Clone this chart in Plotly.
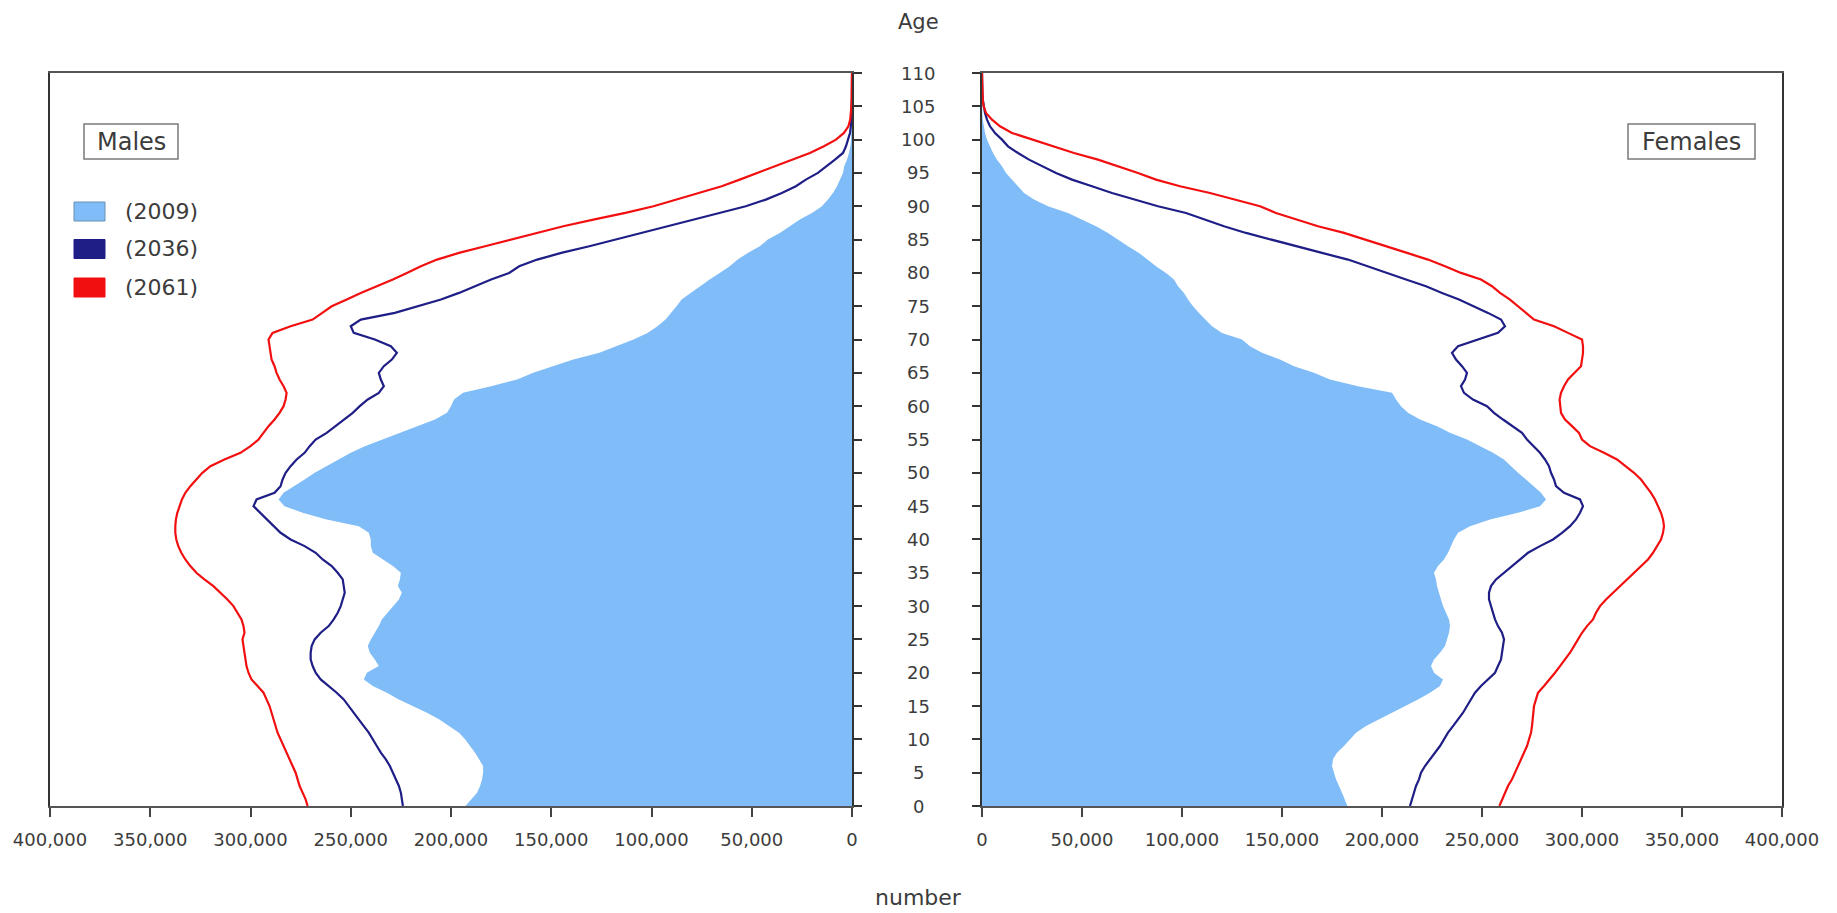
import plotly.graph_objects as go

# ---------------- data (thousands of persons, single years of age 0..110) ----------------
ages = list(range(0, 111))

males_2009 = [
    192.8, 190, 187, 185.5, 184.5, 184, 184, 186, 188, 190.5,
    193, 196, 201, 206, 212, 219, 226, 232, 239, 243.5,
    242, 236, 238, 240.5, 241.5, 240, 238, 236, 234.5, 231.5,
    229, 226, 224.5, 226.5, 225.5, 225, 229, 234, 239, 240,
    240, 241, 246, 262, 274, 283, 286, 283.5, 278, 273,
    268, 262, 256, 250, 243, 234, 225, 217, 208, 202,
    200, 198.5, 194, 180, 167, 159, 149, 139, 126, 117,
    109, 102, 97, 93, 90, 87.5, 85, 80.5, 76, 71,
    66, 61, 57, 52, 46, 42, 36, 31, 26, 20,
    15, 12, 9.5, 7.5, 6, 4.5, 3.9, 2.5, 1.5, 0.8,
    0.5, 0.3, 0.2, 0.1, 0.05, 0.02, 0.01, 0, 0, 0, 0,
]
males_2036 = [
    224, 224.5, 225, 226, 227.5, 229, 230.5, 232.5, 235, 237,
    239, 241, 243.5, 246, 248.5, 251, 253.5, 257, 261, 265,
    267.5, 269, 270, 270, 269.5, 268, 265, 261, 258.5, 256.5,
    255, 254, 253, 253.5, 254, 256.5, 259.5, 264, 267.5, 273,
    280, 285, 288.5, 292, 295, 298.5, 297, 288, 285, 284,
    282.5, 280, 277, 273, 270.5, 267.5, 262, 257.5, 253, 249,
    245.5, 241.5, 236, 233.5, 235, 236, 233.5, 229.5, 227, 230,
    238, 248.5, 250, 245, 228, 216, 205, 196, 188, 180,
    171, 166, 157, 145, 131, 118, 105, 92, 79, 65,
    53, 43, 35, 28, 23, 17, 12.5, 8.5, 4.5, 3,
    2, 1, 0.6, 0.4, 0.2, 0.1, 0.05, 0.02, 0.01, 0, 0,
]
males_2061 = [
    271.5, 272.5, 274, 275.5, 276.5, 277.5, 279, 280.5, 282, 283.5,
    285, 286.5, 287.5, 288.5, 289.5, 290.5, 292, 293.5, 296.5, 299.5,
    301, 302, 302.5, 303, 303.5, 304, 303, 303.5, 304.5, 306.5,
    308.5, 311.5, 315, 318.5, 323, 327, 330, 332.5, 334.5, 336,
    337, 337.5, 337.5, 337.2, 336.5, 335.5, 334.2, 332.5, 330, 327,
    324, 320, 313, 305, 300, 296, 293.5, 291, 288, 285.5,
    283.5, 282.5, 282, 283.5, 285.5, 287, 288, 289.5, 290, 290.5,
    291, 289, 280, 269, 264, 259.5, 252, 245, 237, 229,
    222, 215, 207, 196, 183, 170, 157, 144, 129, 113,
    99, 88, 76, 65, 56, 47, 38, 29, 21, 14,
    8, 4, 1.8, 0.9, 0.5, 0.3, 0.2, 0.1, 0.05, 0.02, 0.01,
]
females_2009 = [
    182.7, 181.5, 180, 178.5, 177, 176, 175, 175.5, 177.5, 181,
    184, 187, 192, 198.5, 205, 212, 218, 224, 229, 230.5,
    226, 224.5, 226, 229, 231.5, 232.5, 233.5, 234, 233.5, 232,
    230.5, 229.5, 228.5, 227.5, 227, 226, 228, 231, 233, 234.5,
    236, 238, 244, 254, 268, 279, 282, 279.5, 276, 272,
    268, 264.5, 261, 255.5, 249, 242.5, 234, 227.5, 219, 213,
    209.5, 207, 205, 188, 174, 166, 156, 149, 140, 134,
    130, 120, 115, 111.5, 108.5, 105.5, 103, 101, 98, 96,
    92, 87, 83, 78.5, 73, 68, 63, 57, 50, 43,
    33, 26, 21, 18, 15, 12, 10, 7.5, 5.5, 4,
    2.5, 1.5, 0.8, 0.4, 0.2, 0.1, 0.05, 0.02, 0.01, 0, 0,
]
females_2036 = [
    214, 215, 216, 217, 218.5, 219.5, 221.5, 224, 226.5, 229,
    231, 233, 235.5, 238, 240.5, 242.5, 244.5, 246.5, 249.5, 253,
    256.5, 258, 259.5, 260, 260.5, 261, 260, 258, 256.5, 255.5,
    254.5, 253.5, 253.5, 254.5, 257, 261, 264.5, 269, 273, 279,
    285.5, 290, 294, 297, 299, 300.5, 299, 291, 287, 286,
    284.5, 283.5, 281.5, 279, 275.5, 272.5, 270, 265, 260.5, 256,
    252.5, 245.5, 241, 239.5, 241.5, 242.5, 240, 237, 235, 238,
    248, 258, 261.5, 259.5, 253, 246, 238.5, 230, 222, 212,
    202.5, 193, 183, 170, 157, 144, 132, 121, 111, 102,
    88, 76, 65, 55, 45, 37, 30, 23.5, 18, 13,
    10, 6.5, 4, 2.5, 1.5, 0.8, 0.4, 0.2, 0.1, 0.05, 0.02,
]
females_2061 = [
    258.7, 260, 261.5, 263, 265, 266.5, 268, 269.5, 271, 272.5,
    273.5, 274.5, 275, 275.3, 275.5, 276, 277, 278, 281, 284,
    286.5, 289, 291.5, 294, 296, 298, 300, 302.5, 305.5, 307,
    309, 312, 315.5, 319, 322.5, 326.5, 330, 333, 335.5, 337.5,
    339.5, 340.5, 341, 340.5, 339.5, 338, 336.5, 334.5, 332, 329.5,
    326, 322, 317.5, 311, 304, 300, 298.5, 295, 291.5, 289.5,
    289, 288.8, 289.5, 291, 293, 296.5, 299.5, 300, 300.5, 300.5,
    300, 293, 286, 276, 272, 267.5, 264, 259, 255, 249.5,
    239.5, 231.5, 223, 212.5, 202, 191.5, 181, 168, 157, 147,
    139, 127, 114, 99, 87, 78, 68, 58, 46, 36,
    26, 15, 9, 5, 2, 0.8, 0.4, 0.2, 0.1, 0.05, 0.02,
]

series_names = ["(2009)", "(2036)", "(2061)"]
x_ticks = [0, 50000, 100000, 150000, 200000, 250000, 300000, 350000, 400000]
age_ticks = list(range(0, 111, 5))

# ---------------- styling ----------------
W, H = 1837, 913
FILL = "#80BDF8"
NAVY = "#1E1E86"
RED = "#F20F0F"
TXT = "#3C3C3C"
FONT = "DejaVu Sans, Verdana, sans-serif"

def th(v):
    return [a * 1000 for a in v]

def px_x(p):
    return p / W

def px_y(p):
    return 1 - p / H

left_dom = [px_x(50), px_x(852)]
right_dom = [px_x(982), px_x(1782)]
y_dom = [px_y(806), px_y(73)]

fig = go.Figure()

# Males
fig.add_trace(go.Scatter(x=th(males_2009), y=ages, xaxis="x", yaxis="y", mode="lines",
                         line=dict(width=0, color=FILL), fill="tozerox", fillcolor=FILL,
                         name=series_names[0], showlegend=False, hoverinfo="skip"))
fig.add_trace(go.Scatter(x=th(males_2036), y=ages, xaxis="x", yaxis="y", mode="lines",
                         line=dict(width=2.2, color=NAVY), name=series_names[1], showlegend=False))
fig.add_trace(go.Scatter(x=th(males_2061), y=ages, xaxis="x", yaxis="y", mode="lines",
                         line=dict(width=2.2, color=RED), name=series_names[2], showlegend=False))
# Females
fig.add_trace(go.Scatter(x=th(females_2009), y=ages, xaxis="x2", yaxis="y2", mode="lines",
                         line=dict(width=0, color=FILL), fill="tozerox", fillcolor=FILL,
                         name=series_names[0], showlegend=False, hoverinfo="skip"))
fig.add_trace(go.Scatter(x=th(females_2036), y=ages, xaxis="x2", yaxis="y2", mode="lines",
                         line=dict(width=2.2, color=NAVY), name=series_names[1], showlegend=False))
fig.add_trace(go.Scatter(x=th(females_2061), y=ages, xaxis="x2", yaxis="y2", mode="lines",
                         line=dict(width=2.2, color=RED), name=series_names[2], showlegend=False))

xcommon = dict(tickvals=x_ticks, ticktext=[f"{v:,}" for v in x_ticks], ticks="outside",
               ticklen=9, tickwidth=1.5, tickcolor="#444", showgrid=False, zeroline=False,
               showline=True, linecolor="#555", linewidth=2, mirror=True,
               tickfont=dict(family=FONT, size=18, color=TXT), ticklabelstandoff=7,
               fixedrange=True, automargin=False)
ycommon = dict(range=[0, 110], tickvals=age_ticks, ticks="outside", ticklen=8, tickwidth=1.5,
               tickcolor="#333", showticklabels=False, showgrid=False, zeroline=False,
               showline=True, linecolor="#333", linewidth=1.5, mirror=True, fixedrange=True,
               automargin=False)

fig.update_layout(
    width=W, height=H, autosize=False,
    margin=dict(l=0, r=0, t=0, b=0, pad=0),
    paper_bgcolor="white", plot_bgcolor="white",
    font=dict(family=FONT, color=TXT),
    xaxis=dict(domain=left_dom, range=[400000, 0], anchor="y", **xcommon),
    yaxis=dict(domain=y_dom, anchor="x", side="right", **ycommon),
    xaxis2=dict(domain=right_dom, range=[0, 400000], anchor="y2", **xcommon),
    yaxis2=dict(domain=y_dom, anchor="x2", side="left", **ycommon),
    showlegend=False,
)

ann = []
for a in age_ticks:
    ann.append(dict(x=px_x(918), xref="paper", y=a, yref="y2", text=str(a), showarrow=False,
                    xanchor="center", yanchor="middle", font=dict(size=18, color=TXT)))
ann.append(dict(x=px_x(918), y=px_y(22), xref="paper", yref="paper", text="Age", showarrow=False,
                xanchor="center", yanchor="middle", font=dict(size=21, color=TXT)))
ann.append(dict(x=px_x(918), y=px_y(897), xref="paper", yref="paper", text="number", showarrow=False,
                xanchor="center", yanchor="middle", font=dict(size=22, color=TXT)))

shapes = []
# framed panel labels
for label, x0, x1 in (("Males", 84, 178), ("Females", 1628, 1755)):
    shapes.append(dict(type="rect", xref="paper", yref="paper",
                       x0=px_x(x0), x1=px_x(x1), y0=px_y(159), y1=px_y(124),
                       fillcolor="white", line=dict(color="#7a7a7a", width=1.5)))
    ann.append(dict(x=px_x((x0 + x1) / 2), y=px_y(141.5), xref="paper", yref="paper", text=label,
                    showarrow=False, xanchor="center", yanchor="middle",
                    font=dict(size=24, color=TXT)))

# legend (swatches + text)
legend_colors = [FILL, NAVY, RED]
legend_rows = [211.5, 249, 287.5]
for name, col, yc in zip(series_names, legend_colors, legend_rows):
    shapes.append(dict(type="rect", xref="paper", yref="paper",
                       x0=px_x(74), x1=px_x(105), y0=px_y(yc + 9.5), y1=px_y(yc - 9.5),
                       fillcolor=col, line=dict(color="#6a8fb0" if col == FILL else col, width=1)))
    ann.append(dict(x=px_x(123), y=px_y(yc), xref="paper", yref="paper", text=name, showarrow=False,
                    xanchor="left", yanchor="middle", font=dict(size=22, color=TXT)))

fig.update_layout(annotations=ann, shapes=shapes)

fig.write_html("out.html", config=dict(displayModeBar=False),
               post_script="document.body.style.margin='0';document.body.style.overflow='hidden';")
